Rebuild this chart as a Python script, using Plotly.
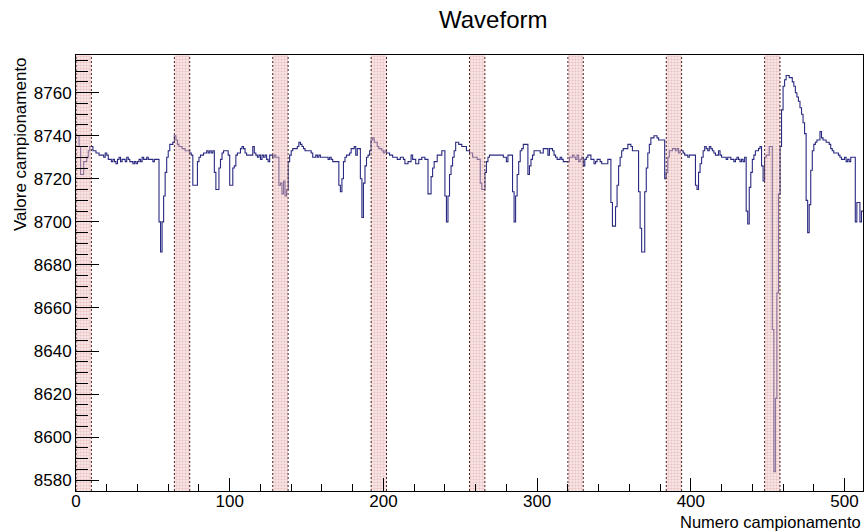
import plotly.graph_objects as go

# ---- data ----
waveform = [
    8740, 8740, 8735, 8722, 8722, 8728, 8728, 8730, 8733, 8735,  # 0-9
    8735, 8733, 8733, 8732, 8732, 8731, 8731, 8731, 8730, 8732,  # 10-19
    8731, 8729, 8729, 8728, 8729, 8728, 8727, 8729, 8730, 8728,  # 20-29
    8729, 8729, 8728, 8730, 8729, 8728, 8728, 8727, 8728, 8727,  # 30-39
    8728, 8729, 8728, 8730, 8729, 8729, 8730, 8729, 8729, 8729,  # 40-49
    8728, 8729, 8729, 8729, 8700, 8686, 8700, 8712, 8723, 8730,  # 50-59
    8733, 8736, 8736, 8737, 8740, 8738, 8736, 8735, 8735, 8734,  # 60-69
    8734, 8733, 8733, 8733, 8732, 8731, 8717, 8717, 8717, 8728,  # 70-79
    8730, 8731, 8731, 8732, 8732, 8733, 8732, 8733, 8732, 8733,  # 80-89
    8723, 8715, 8715, 8725, 8729, 8732, 8733, 8733, 8733, 8731,  # 90-99
    8717, 8717, 8725, 8726, 8731, 8732, 8732, 8734, 8735, 8734,  # 100-109
    8732, 8731, 8731, 8731, 8731, 8735, 8732, 8731, 8730, 8731,  # 110-119
    8729, 8731, 8730, 8731, 8729, 8728, 8731, 8731, 8730, 8731,  # 120-129
    8730, 8730, 8717, 8718, 8713, 8719, 8712, 8715, 8728, 8731,  # 130-139
    8733, 8734, 8734, 8734, 8735, 8737, 8736, 8735, 8734, 8733,  # 140-149
    8733, 8733, 8733, 8732, 8730, 8730, 8731, 8730, 8731, 8730,  # 150-159
    8730, 8730, 8730, 8730, 8729, 8730, 8729, 8728, 8728, 8728,  # 160-169
    8728, 8717, 8714, 8720, 8728, 8730, 8731, 8731, 8732, 8734,  # 170-179
    8734, 8735, 8731, 8734, 8734, 8720, 8702, 8718, 8726, 8730,  # 180-189
    8731, 8733, 8738, 8739, 8737, 8737, 8735, 8734, 8734, 8733,  # 190-199
    8732, 8733, 8732, 8732, 8731, 8731, 8730, 8730, 8730, 8729,  # 200-209
    8729, 8730, 8730, 8729, 8727, 8727, 8728, 8728, 8731, 8729,  # 210-219
    8729, 8727, 8727, 8729, 8729, 8730, 8730, 8729, 8729, 8713,  # 220-229
    8713, 8721, 8725, 8728, 8728, 8731, 8731, 8731, 8733, 8733,  # 230-239
    8712, 8700, 8712, 8722, 8726, 8730, 8733, 8737, 8737, 8736,  # 240-249
    8736, 8735, 8735, 8735, 8733, 8733, 8732, 8732, 8730, 8730,  # 250-259
    8730, 8729, 8729, 8718, 8715, 8715, 8723, 8728, 8730, 8731,  # 260-269
    8731, 8731, 8731, 8731, 8731, 8731, 8731, 8731, 8730, 8730,  # 270-279
    8728, 8731, 8731, 8731, 8714, 8700, 8712, 8722, 8728, 8733,  # 280-289
    8734, 8736, 8736, 8736, 8722, 8726, 8729, 8731, 8733, 8733,  # 290-299
    8733, 8733, 8732, 8732, 8734, 8734, 8734, 8731, 8734, 8734,  # 300-309
    8733, 8731, 8730, 8729, 8729, 8730, 8729, 8728, 8728, 8728,  # 310-319
    8728, 8730, 8730, 8731, 8730, 8729, 8731, 8728, 8729, 8730,  # 320-329
    8726, 8729, 8730, 8731, 8731, 8729, 8729, 8727, 8728, 8729,  # 330-339
    8729, 8728, 8727, 8727, 8727, 8727, 8729, 8729, 8709, 8698,  # 340-349
    8698, 8707, 8717, 8726, 8730, 8733, 8734, 8734, 8734, 8736,  # 350-359
    8736, 8735, 8733, 8733, 8733, 8733, 8714, 8697, 8686, 8686,  # 360-369
    8714, 8725, 8732, 8736, 8739, 8739, 8740, 8740, 8739, 8738,  # 370-379
    8738, 8738, 8738, 8720, 8723, 8730, 8733, 8733, 8734, 8734,  # 380-389
    8733, 8734, 8732, 8733, 8733, 8732, 8731, 8731, 8730, 8731,  # 390-399
    8731, 8731, 8731, 8717, 8715, 8723, 8727, 8730, 8733, 8735,  # 400-409
    8734, 8733, 8735, 8734, 8733, 8732, 8731, 8731, 8733, 8731,  # 410-419
    8730, 8730, 8730, 8729, 8730, 8730, 8729, 8729, 8728, 8729,  # 420-429
    8730, 8729, 8728, 8729, 8728, 8730, 8705, 8699, 8716, 8723,  # 430-439
    8729, 8731, 8733, 8733, 8734, 8735, 8726, 8719, 8730, 8731,  # 440-449
    8731, 8735, 8735, 8650, 8584, 8618, 8667, 8713, 8735, 8752,  # 450-459
    8763, 8766, 8768, 8768, 8767, 8767, 8765, 8763, 8760, 8758,  # 460-469
    8756, 8753, 8750, 8746, 8741, 8710, 8695, 8708, 8724, 8733,  # 470-479
    8736, 8737, 8738, 8738, 8742, 8739, 8738, 8738, 8737, 8737,  # 480-489
    8736, 8734, 8733, 8732, 8732, 8732, 8731, 8730, 8729, 8729,  # 490-499
    8730, 8728, 8729, 8728, 8730, 8730, 8730, 8700, 8709, 8709,  # 500-509
    8700, 8705,                                                  # 510-511
]
band_starts = [0, 64, 128, 192, 256, 320, 384, 448]
band_width = 10
x_ticks = [0, 100, 200, 300, 400, 500]
y_ticks = [8580, 8600, 8620, 8640, 8660, 8680, 8700, 8720, 8740, 8760]

X_RANGE = [0, 512]
Y_RANGE = [8575, 8777.5]

# step histogram edges
n = len(waveform)
xs = list(range(n + 1))
ys = waveform + [waveform[-1]]

FONT = "Liberation Sans, Arial, Helvetica, sans-serif"

fig = go.Figure()

fig.add_trace(go.Scatter(
    x=xs, y=ys, mode="lines", line=dict(shape="hv", color="#2a2a82", width=1.1),
    hoverinfo="skip", showlegend=False,
))

# shaded bands (drawn on top like ROOT boxes)
bx, by = [], []
for s in band_starts:
    e = s + band_width
    bx += [s, e, e, s, s, None]
    by += [Y_RANGE[0], Y_RANGE[0], Y_RANGE[1], Y_RANGE[1], Y_RANGE[0], None]
fig.add_trace(go.Scatter(
    x=bx, y=by, mode="lines", fill="toself",
    fillcolor="rgba(240,200,200,0.45)",
    fillpattern=dict(shape=".", fgcolor="rgba(190,90,90,0.55)", size=3,
                     solidity=0.4, fillmode="overlay"),
    line=dict(width=0), hoverinfo="skip", showlegend=False,
))

# dashed band edges
lx, ly = [], []
for s in band_starts:
    for e in (s, s + band_width):
        lx += [e, e, None]
        ly += [Y_RANGE[0], Y_RANGE[1], None]
fig.add_trace(go.Scatter(
    x=lx, y=ly, mode="lines", line=dict(color="#4a2020", width=1, dash="2px,2px"),
    hoverinfo="skip", showlegend=False,
))

fig.update_layout(
    width=865, height=532,
    margin=dict(l=76, r=2, t=55, b=41),
    paper_bgcolor="white", plot_bgcolor="white",
    font=dict(family=FONT, size=17, color="black"),
    showlegend=False,
    xaxis=dict(
        range=X_RANGE, tickvals=x_ticks, ticks="inside", ticklen=13, tickwidth=1,
        tickcolor="black", showline=True, linecolor="black", linewidth=1, mirror=True,
        showgrid=False, zeroline=False, tickfont=dict(size=17), ticklabelstandoff=-5,
        minor=dict(dtick=20, ticks="inside", ticklen=7, tickcolor="black", showgrid=False),
    ),
    yaxis=dict(
        range=Y_RANGE, tickvals=y_ticks, ticks="inside", ticklen=23, tickwidth=1,
        tickcolor="black", showline=True, linecolor="black", linewidth=1, mirror=True,
        showgrid=False, zeroline=False, tickfont=dict(size=17),
        minor=dict(dtick=5, ticks="inside", ticklen=12, tickcolor="black", showgrid=False),
    ),
    annotations=[
        dict(text="Waveform", xref="paper", yref="paper", x=(493 - 76) / 787,
             y=(491 - 20) / 436, xanchor="center", yanchor="middle",
             showarrow=False, font=dict(size=24, family=FONT)),
        dict(text="Numero campionamento", xref="paper", yref="paper", x=1.0,
             y=(491 - 521.5) / 436, xanchor="right", yanchor="middle",
             showarrow=False, font=dict(size=16.5, family=FONT)),
        dict(text="Valore campionamento", xref="paper", yref="paper",
             x=(20 - 76) / 787, y=1.0, xanchor="center", yanchor="top",
             textangle=-90, showarrow=False, font=dict(size=17, family=FONT)),
    ],
)

fig.write_html("out.html")
